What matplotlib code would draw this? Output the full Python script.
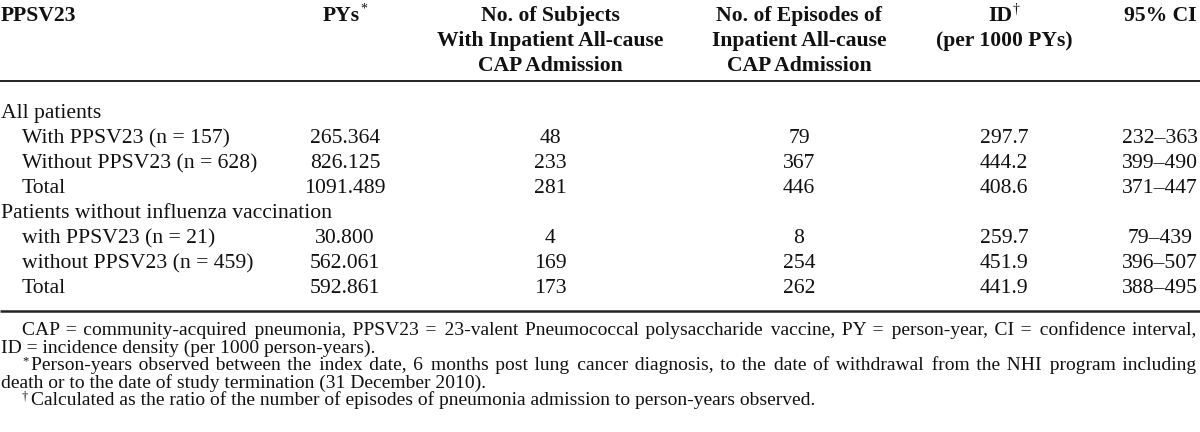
import matplotlib
matplotlib.use("Agg")
import matplotlib.pyplot as plt

# ---------------- data ----------------
header_first = "PPSV23"
header_pys = "PYs"
header_subjects = ["No. of Subjects", "With Inpatient All-cause", "CAP Admission"]
header_episodes = ["No. of Episodes of", "Inpatient All-cause", "CAP Admission"]
header_id = ["ID", "(per 1000 PYs)"]
header_ci = "95% CI"

groups = ["All patients", "Patients without influenza vaccination"]
row_labels = [
    ["With PPSV23 (n = 157)", "Without PPSV23 (n = 628)", "Total"],
    ["with PPSV23 (n = 21)", "without PPSV23 (n = 459)", "Total"],
]
pys = [["265.364", "826.125", "1091.489"], ["30.800", "562.061", "592.861"]]
subjects = [[48, 233, 281], [4, 169, 173]]
episodes = [[79, 367, 446], [8, 254, 262]]
id_vals = [["297.7", "444.2", "408.6"], ["259.7", "451.9", "441.9"]]
ci_vals = [["232\u2013363", "399\u2013490", "371\u2013447"],
           ["79\u2013439", "396\u2013507", "388\u2013495"]]

note_marks = ["", "", "*", "", "\u2020"]
note_lines = [
    "CAP = community-acquired pneumonia, PPSV23 = 23-valent Pneumococcal polysaccharide vaccine, PY = person-year, CI = confidence interval,",
    "ID = incidence density (per 1000 person-years).",
    "Person-years observed between the index date, 6 months post lung cancer diagnosis, to the date of withdrawal from the NHI program including",
    "death or to the date of study termination (31 December 2010).",
    "Calculated as the ratio of the number of episodes of pneumonia admission to person-years observed.",
]
note_justify = [True, False, True, False, False]
note_indent = [True, False, True, False, True]

# ---------------- layout ----------------
W, H = 1200, 432
fig = plt.figure(figsize=(12, 4.32), dpi=100)
ax = fig.add_axes([0, 0, 1, 1])
ax.set_xlim(0, W)
ax.set_ylim(H, 0)
ax.axis("off")

FAM = ["Liberation Serif", "DejaVu Serif"]
FS = 15.6
FS_NOTE = 14.0
FS_SUP = 10
col_x = [1, 345, 550, 799, 1004, 1160]
# baselines (pixels from top)
hdr_base = [21, 46, 71]
rule_top = 81
row_base0, row_dy = 118, 25
rule_bot = 311
note_base0, note_dy = 335, 17.6
txt_color = "#111111"
HAIR = "\u200a"

fig.canvas.draw()
renderer = fig.canvas.get_renderer()


def put(x, y, s, ha="left", bold=False, fs=FS):
    return ax.text(x, y, s, ha=ha, va="baseline", fontsize=fs, family=FAM,
                   fontweight="bold" if bold else "normal", color=txt_color)


def measure(s, fs):
    t = ax.text(0, 0, s, fontsize=fs, family=FAM)
    w = t.get_window_extent(renderer=renderer).width
    t.remove()
    return w


def put_sup(t, sup, y_off=-8, fs=FS_SUP):
    bb = t.get_window_extent(renderer=renderer)
    y = t.get_position()[1] + y_off
    ax.text(bb.x1 + 1, y, sup, ha="left", va="baseline", fontsize=fs,
            family=FAM, color=txt_color)


def justified(line, x0, x1, fs):
    """Insert hair spaces at word gaps so the line spans x0..x1."""
    words = line.split(" ")
    natural = measure(line, fs)
    extra = (x1 - x0) - natural
    if extra <= 0 or len(words) < 2:
        return line
    fine_w = measure("a" + HAIR + "a", fs) - measure("aa", fs)
    if fine_w < 0.3:
        fine_w = 0.3
    per_gap = extra / (len(words) - 1)
    out = words[0]
    acc = 0.0
    used = 0
    for w in words[1:]:
        acc += per_gap
        n = int(acc / fine_w) - used
        used += n
        out += " " + HAIR * max(n, 0) + w
    return out


# header
put(col_x[0], hdr_base[0], header_first, bold=True)
t = put(col_x[1] - 4, hdr_base[0], header_pys, ha="center", bold=True)
put_sup(t, "*")
for i, s in enumerate(header_subjects):
    put(col_x[2], hdr_base[i], s, ha="center", bold=True)
for i, s in enumerate(header_episodes):
    put(col_x[3], hdr_base[i], s, ha="center", bold=True)
t = put(col_x[4] - 4, hdr_base[0], header_id[0], ha="center", bold=True)
put_sup(t, "\u2020")
put(col_x[4], hdr_base[1], header_id[1], ha="center", bold=True)
put(col_x[5], hdr_base[0], header_ci, ha="center", bold=True)

ax.plot([0, W], [rule_top, rule_top], color="#222222", lw=1.4, solid_capstyle="butt")

# body
r = 0
for g, grp in enumerate(groups):
    y = row_base0 + r * row_dy
    put(col_x[0], y, grp)
    r += 1
    for k in range(3):
        y = row_base0 + r * row_dy
        put(22, y, row_labels[g][k])
        put(col_x[1], y, pys[g][k], ha="center")
        put(col_x[2], y, str(subjects[g][k]), ha="center")
        put(col_x[3], y, str(episodes[g][k]), ha="center")
        put(col_x[4], y, id_vals[g][k], ha="center")
        put(col_x[5], y, ci_vals[g][k], ha="center")
        r += 1

ax.plot([0, W], [rule_bot, rule_bot], color="#222222", lw=1.8, solid_capstyle="butt")

# footnotes
for i, line in enumerate(note_lines):
    y = note_base0 + i * note_dy
    x0 = 22 if note_indent[i] else 1
    if note_marks[i]:
        st = ax.text(x0, y - 6, note_marks[i], ha="left", va="baseline",
                     fontsize=FS_SUP - 1, family=FAM, color=txt_color)
        x0 = x0 + st.get_window_extent(renderer=renderer).width + 3
    s = justified(line, x0, 1197, FS_NOTE) if note_justify[i] else line
    put(x0, y, s, fs=FS_NOTE)

fig.savefig("out.png", dpi=100)
